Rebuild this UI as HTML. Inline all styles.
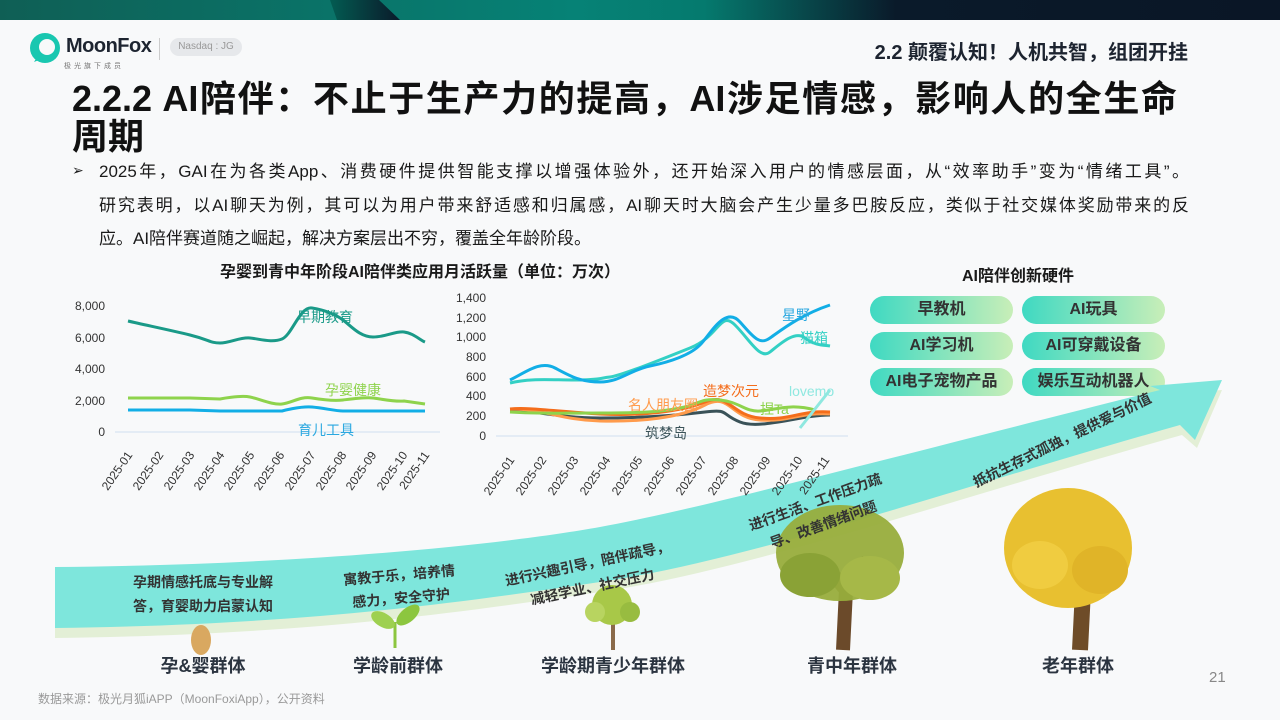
<!DOCTYPE html>
<html><head><meta charset="utf-8"><style>
*{margin:0;padding:0;box-sizing:border-box}
body{width:1280px;height:720px;overflow:hidden;background:#f8f9fa;font-family:"Liberation Sans","Noto Sans CJK SC",sans-serif;position:relative;color:#1a1a1a}
.abs{position:absolute;white-space:nowrap}
.pill{position:absolute;height:28px;width:143px;border-radius:14px;background:linear-gradient(90deg,#3fd9c2,#c8eeb8);font-weight:bold;font-size:16px;color:#333;text-align:center;line-height:28px}
.grp{position:absolute;top:652px;font-size:18px;font-weight:bold;color:#2b3440;transform:translateX(-50%);white-space:nowrap}
.jl{display:block;text-align:justify;text-align-last:justify;white-space:nowrap}
</style></head><body>
<div class="abs" style="left:0;top:0;width:1280px;height:20px;background:linear-gradient(90deg,#0f5f55 0%,#068276 45%,#057a6e 55%,#0a1a2a 70%,#0a1626 100%)"></div>
<div class="abs" style="left:330px;top:0;width:70px;height:20px;background:linear-gradient(90deg,#035c52,#0a1a2a);clip-path:polygon(0 0,70% 0,100% 100%,10% 100%)"></div>
<svg class="abs" style="left:28px;top:32px" width="34" height="34" viewBox="0 0 34 34"><circle cx="17" cy="16" r="15" fill="#19c7b0"/><circle cx="19" cy="15" r="8" fill="#f8f9fa"/><path d="M6 30 L12 20 L16 26Z" fill="#19c7b0"/></svg>
<div class="abs" style="left:66px;top:35px;font-size:20px;font-weight:bold;color:#1d2430;letter-spacing:-0.5px">MoonFox</div>
<div class="abs" style="left:64px;top:61px;font-size:7px;color:#777;letter-spacing:3px">极光旗下成员</div>
<div class="abs" style="left:159px;top:38px;width:1px;height:22px;background:#ccc"></div>
<div class="abs" style="left:170px;top:38px;width:72px;height:18px;border-radius:9px;background:#e6e8eb;font-size:10px;color:#999;text-align:center;line-height:18px">Nasdaq : JG</div>
<div class="abs" style="right:92px;top:36px;font-size:20px;font-weight:bold;color:#1d2430">2.2 颠覆认知！人机共智，组团开挂</div>
<div class="abs" style="left:72px;top:80px;font-size:36px;font-weight:bold;line-height:38px;color:#111;width:1105px">
<span class="jl">2.2.2 AI陪伴：不止于生产力的提高，AI涉足情感，影响人的全生命</span>周期</div>
<div class="abs" style="left:72px;top:162px;font-size:14px">➢</div>
<div class="abs" style="left:99px;top:155px;font-size:17px;line-height:33.5px;color:#1a1a1a;width:1090px">
<span class="jl">2025年，GAI在为各类App、消费硬件提供智能支撑以增强体验外，还开始深入用户的情感层面，从“效率助手”变为“情绪工具”。</span>
<span class="jl">研究表明，以AI聊天为例，其可以为用户带来舒适感和归属感，AI聊天时大脑会产生少量多巴胺反应，类似于社交媒体奖励带来的反</span>
应。AI陪伴赛道随之崛起，解决方案层出不穷，覆盖全年龄阶段。</div>
<div class="abs" style="left:220px;top:258px;font-size:16px;font-weight:bold">孕婴到青中年阶段AI陪伴类应用月活跃量（单位：万次）</div>
<div class="abs" style="left:962px;top:262px;font-size:16px;font-weight:bold">AI陪伴创新硬件</div>
<div class="pill" style="left:870px;top:296px">早教机</div>
<div class="pill" style="left:1022px;top:296px">AI玩具</div>
<div class="pill" style="left:870px;top:332px">AI学习机</div>
<div class="pill" style="left:1022px;top:332px">AI可穿戴设备</div>
<div class="pill" style="left:870px;top:368px">AI电子宠物产品</div>
<div class="pill" style="left:1022px;top:368px">娱乐互动机器人</div>

<svg class="abs" style="left:0;top:0" width="1280" height="720" font-family="Liberation Sans, Noto Sans CJK SC, sans-serif">
<path d="M55,577 C300,575 500,555 600,537 S900,465 1160,400 L1152,396 L1222,390 L1197,448 L1182,435 C950,500 750,570 600,592 S300,635 55,638Z" fill="#e3efd6"/>
<path d="M55,567 C300,565 500,545 600,527 S900,455 1160,390 L1150,386 L1222,380 L1195,440 L1180,425 C950,490 750,560 600,582 S300,625 55,628Z" fill="#7ee6dc"/>
<!-- trees -->
<ellipse cx="201" cy="640" rx="10" ry="15" fill="#d9a860"/>
<path d="M395,648 L395,622" stroke="#8cc63f" stroke-width="3"/>
<ellipse cx="383" cy="620" rx="13" ry="7" fill="#9ed050" transform="rotate(30 383 620)"/>
<ellipse cx="408" cy="615" rx="14" ry="7" fill="#8cc63f" transform="rotate(-40 408 615)"/>
<path d="M613,650 L613,610" stroke="#8a6a4a" stroke-width="4"/>
<circle cx="612" cy="605" r="20" fill="#a8c848"/><circle cx="595" cy="612" r="10" fill="#b8d460"/><circle cx="630" cy="612" r="10" fill="#98bc40"/>
<path d="M843,650 L846,590 L825,565 M846,590 L868,560" stroke="#6b4a2a" stroke-width="14" fill="none"/>
<ellipse cx="840" cy="553" rx="64" ry="48" fill="#98ad3c" opacity="0.95"/><ellipse cx="810" cy="575" rx="30" ry="22" fill="#8aa236"/><ellipse cx="870" cy="578" rx="30" ry="22" fill="#a6b848"/>
<path d="M1080,650 L1083,590 L1055,555 M1083,590 L1110,550" stroke="#6e4c28" stroke-width="16" fill="none"/>
<ellipse cx="1068" cy="548" rx="64" ry="60" fill="#e8c030"/><ellipse cx="1040" cy="565" rx="28" ry="24" fill="#f0cc40"/><ellipse cx="1100" cy="570" rx="28" ry="24" fill="#e0b428"/>
<g font-size="14" font-weight="bold" fill="#333">
<text x="203" y="587" text-anchor="middle">孕期情感托底与专业解</text>
<text x="203" y="611" text-anchor="middle">答，育婴助力启蒙认知</text>
<g transform="rotate(-5 400 585)"><text x="400" y="580" text-anchor="middle">寓教于乐，培养情</text><text x="400" y="603" text-anchor="middle">感力，安全守护</text></g>
<g transform="rotate(-12 590 575)"><text x="590" y="568" text-anchor="middle">进行兴趣引导，陪伴疏导，</text><text x="590" y="592" text-anchor="middle">减轻学业、社交压力</text></g>
<g transform="rotate(-20 820 515)"><text x="820" y="506" text-anchor="middle">进行生活、工作压力疏</text><text x="820" y="530" text-anchor="middle">导、改善情绪问题</text></g>
<g transform="rotate(-26 1062 440)"><text x="1062" y="445" text-anchor="middle">抵抗生存式孤独，提供爱与价值</text></g>
</g>

<g font-size="12" fill="#333">
<text x="105" y="310" text-anchor="end">8,000</text>
<text x="105" y="342" text-anchor="end">6,000</text>
<text x="105" y="373" text-anchor="end">4,000</text>
<text x="105" y="405" text-anchor="end">2,000</text>
<text x="105" y="436" text-anchor="end">0</text>
</g>
<line x1="115" y1="432" x2="440" y2="432" stroke="#cfe0f0"/>
<g fill="none" stroke-width="3" stroke-linejoin="round">
<path d="M128,321 C145,325 170,330 190,335 S210,343 220,343 S240,337 250,338 S272,343 282,339 S300,306 312,308 S335,314 343,320 S360,337 373,337 S395,331 404,332 S420,340 425,342" stroke="#1a9a88"/>
<path d="M128,398 L190,398 L220,399 S240,395 250,397 S272,405 282,404 S300,396 312,398 S335,401 343,400 S365,397 373,398 S395,402 404,401 L425,404" stroke="#8ed34c"/>
<path d="M128,410 L190,410 L220,411 L282,411 S300,406 312,407 S335,411 343,411 L425,411" stroke="#12aee6"/>
</g>
<g font-size="14">
<text x="297" y="322" fill="#1a9a88">早期教育</text>
<text x="325" y="395" fill="#8ed34c">孕婴健康</text>
<text x="298" y="435" fill="#2aa8e0">育儿工具</text>
</g>
<g font-size="12" fill="#333">
<text transform="translate(133,455) rotate(-55)" text-anchor="end">2025-01</text>
<text transform="translate(164,455) rotate(-55)" text-anchor="end">2025-02</text>
<text transform="translate(195,455) rotate(-55)" text-anchor="end">2025-03</text>
<text transform="translate(225,455) rotate(-55)" text-anchor="end">2025-04</text>
<text transform="translate(255,455) rotate(-55)" text-anchor="end">2025-05</text>
<text transform="translate(285,455) rotate(-55)" text-anchor="end">2025-06</text>
<text transform="translate(316,455) rotate(-55)" text-anchor="end">2025-07</text>
<text transform="translate(347,455) rotate(-55)" text-anchor="end">2025-08</text>
<text transform="translate(377,455) rotate(-55)" text-anchor="end">2025-09</text>
<text transform="translate(408,455) rotate(-55)" text-anchor="end">2025-10</text>
<text transform="translate(430,455) rotate(-55)" text-anchor="end">2025-11</text>
</g>
<g font-size="12" fill="#333">
<text x="486" y="302" text-anchor="end">1,400</text>
<text x="486" y="322" text-anchor="end">1,200</text>
<text x="486" y="341" text-anchor="end">1,000</text>
<text x="486" y="361" text-anchor="end">800</text>
<text x="486" y="381" text-anchor="end">600</text>
<text x="486" y="400" text-anchor="end">400</text>
<text x="486" y="420" text-anchor="end">200</text>
<text x="486" y="440" text-anchor="end">0</text>
</g>
<line x1="496" y1="436" x2="848" y2="436" stroke="#cfe0f0"/>
<g fill="none" stroke-width="3" stroke-linejoin="round">
<path d="M510,410 C530,410 560,418 600,418 S680,415 705,412 S720,414 740,422 S800,415 830,415" stroke="#3a5258"/>
<path d="M510,409 C540,408 560,420 600,421 S680,418 705,405 S730,418 760,420 S800,412 830,414" stroke="#ff9b4c"/>
<path d="M510,409 C530,407 560,412 600,414 S680,412 705,402 S730,415 760,418 S800,410 830,412" stroke="#f46d1b"/>
<path d="M510,412 C540,414 560,413 600,413 S660,412 680,408 S700,398 720,400 S745,412 760,411 S790,403 815,410" stroke="#8ed34c"/>
<path d="M800,428 L830,390" stroke="#8fe8e0"/>
<path d="M510,383 C530,378 550,380 575,380 S600,378 610,377 S660,360 690,348 S720,310 735,325 S760,360 770,352 S795,330 805,338 S825,345 830,346" stroke="#33d0c4"/>
<path d="M510,380 C525,373 540,360 555,368 S580,382 600,382 S630,370 650,366 S690,355 700,345 S725,305 740,322 S760,345 770,338 S800,315 830,305" stroke="#12aee6"/>
</g>
<g font-size="14">
<text x="782" y="320" fill="#2aa8e0">星野</text>
<text x="800" y="343" fill="#33d0c4">猫箱</text>
<text x="703" y="396" fill="#f46d1b">造梦次元</text>
<text x="789" y="396" fill="#8fe8e0">lovemo</text>
<text x="628" y="410" fill="#ff9b4c">名人朋友圈</text>
<text x="760" y="414" fill="#8ed34c">捏Ta</text>
<text x="645" y="438" fill="#3a5258">筑梦岛</text>
</g>
<g font-size="12" fill="#333">
<text transform="translate(515,460) rotate(-55)" text-anchor="end">2025-01</text>
<text transform="translate(547,460) rotate(-55)" text-anchor="end">2025-02</text>
<text transform="translate(579,460) rotate(-55)" text-anchor="end">2025-03</text>
<text transform="translate(611,460) rotate(-55)" text-anchor="end">2025-04</text>
<text transform="translate(643,460) rotate(-55)" text-anchor="end">2025-05</text>
<text transform="translate(675,460) rotate(-55)" text-anchor="end">2025-06</text>
<text transform="translate(707,460) rotate(-55)" text-anchor="end">2025-07</text>
<text transform="translate(739,460) rotate(-55)" text-anchor="end">2025-08</text>
<text transform="translate(771,460) rotate(-55)" text-anchor="end">2025-09</text>
<text transform="translate(803,460) rotate(-55)" text-anchor="end">2025-10</text>
<text transform="translate(830,460) rotate(-55)" text-anchor="end">2025-11</text>
</g>
</svg>
<div class="grp" style="left:203px">孕&amp;婴群体</div>
<div class="grp" style="left:398px">学龄前群体</div>
<div class="grp" style="left:613px">学龄期青少年群体</div>
<div class="grp" style="left:852px">青中年群体</div>
<div class="grp" style="left:1078px">老年群体</div>
<div class="abs" style="left:1209px;top:669px;font-size:15px;color:#888">21</div>
<div class="abs" style="left:38px;top:690px;font-size:12px;color:#999">数据来源：极光月狐iAPP（MoonFoxiApp），公开资料</div>
</body></html>
